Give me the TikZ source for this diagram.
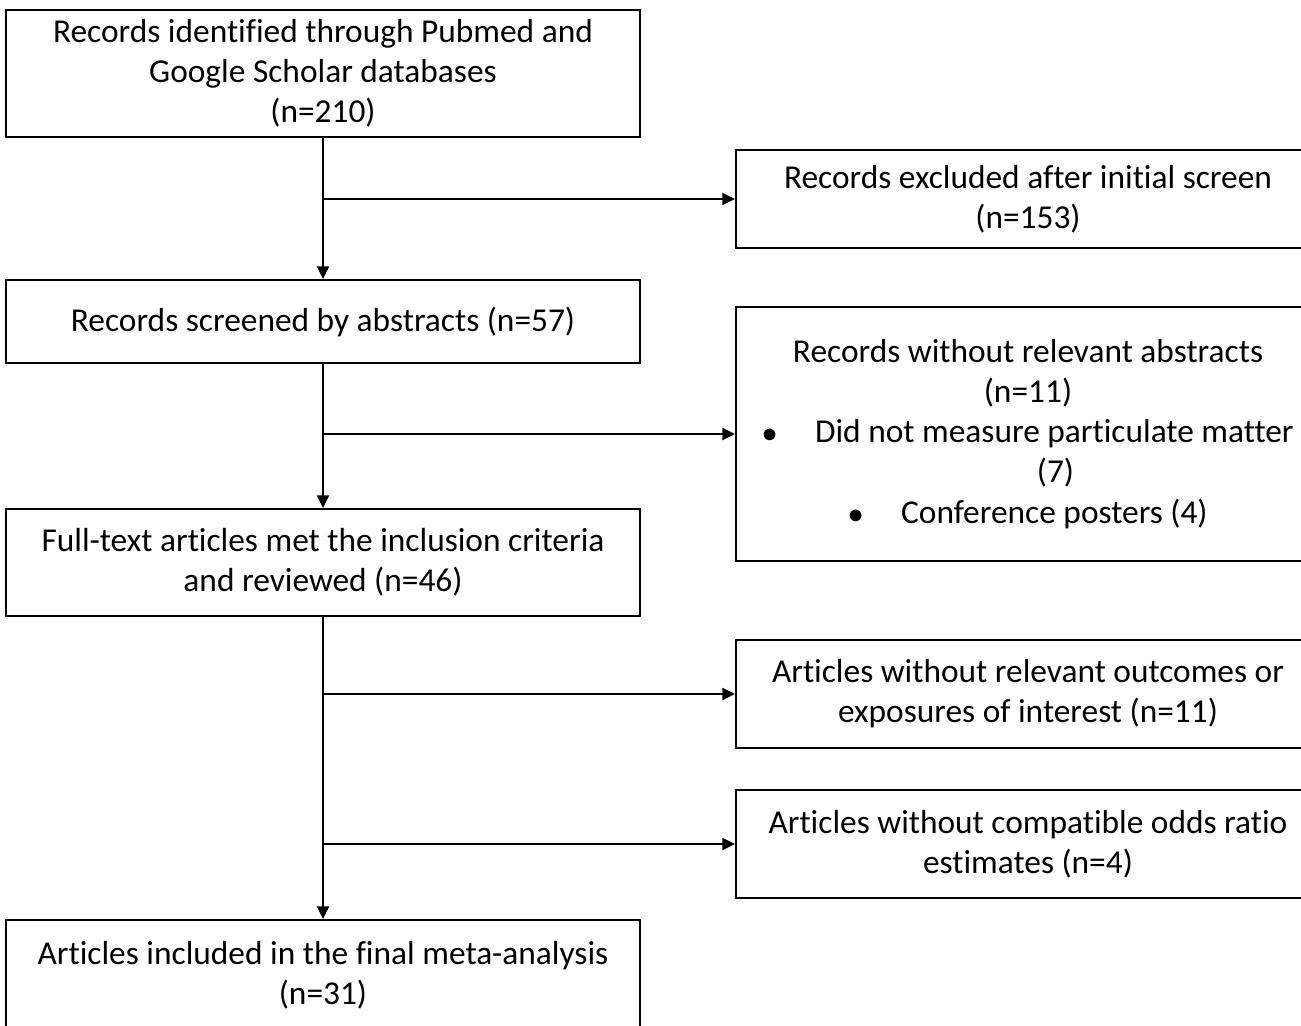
\documentclass[tikz,border=0pt]{standalone}
\usepackage{fontspec}
\setmainfont{Carlito}[Ligatures=NoCommon]
\usepackage{tikz}
\usetikzlibrary{arrows.meta}

\tikzset{
    flowbox/.style={draw, line width=1.2pt, align=center, inner sep=0pt,
        font=\fontsize{19}{22.8}\selectfont},
    leftbox/.style={flowbox, minimum width=12.68cm},
    rightbox/.style={flowbox, minimum width=11.68cm},
    flowline/.style={line width=1.1pt},
    flowarrow/.style={flowline, arrows={-Triangle[length=0.25cm, width=0.24cm]}}
}

\begin{document}
\begin{tikzpicture}
        % frame
        \useasboundingbox (0, 0) rectangle (26.02, -20.5);
        \clip (0, 0) rectangle (26.02, -20.5);
        % main column
        \node[leftbox, minimum height=2.54cm] (ident) at (6.46, -1.47)
            {Records identified through Pubmed and\\Google Scholar databases\\(n=210)};
        \node[leftbox, minimum height=1.66cm] (screen) at (6.46, -6.43)
            {Records screened by abstracts (n=57)};
        \node[leftbox, minimum height=2.14cm] (full) at (6.46, -11.25)
            {Full-text articles met the inclusion criteria\\and reviewed (n=46)};
        \node[leftbox, minimum height=2.22cm] (final) at (6.46, -19.51)
            {Articles included in the final meta-analysis\\(n=31)};
        % excluded column
        \node[rightbox, minimum height=1.96cm] (excl) at (20.56, -3.98)
            {Records excluded after initial screen\\(n=153)};
        \node[rightbox, minimum height=5.08cm] (noabs) at (20.56, -8.68)
            {Records without relevant abstracts\\(n=11)\\
             $\bullet$\hspace{0.75cm}Did not measure particulate matter\\
             \hspace*{1.1cm}(7)\\
             $\bullet$\hspace{0.75cm}Conference posters (4)};
        \node[rightbox, minimum height=2.16cm] (noout) at (20.56, -13.88)
            {Articles without relevant outcomes or\\exposures of interest (n=11)};
        \node[rightbox, minimum height=2.16cm] (noodds) at (20.56, -16.88)
            {Articles without compatible odds ratio\\estimates (n=4)};
        % arrows down
        \draw[flowarrow] (ident) -- (screen);
        \draw[flowarrow] (screen) -- (full);
        \draw[flowarrow] (full) -- (final);
        % arrows to the side
        \draw[flowarrow] (ident.south |- excl.west) -- (excl.west);
        \draw[flowarrow] (screen.south |- noabs.west) -- (noabs.west);
        \draw[flowarrow] (full.south |- noout.west) -- (noout.west);
        \draw[flowarrow] (full.south |- noodds.west) -- (noodds.west);
    \end{tikzpicture}
\end{document}
